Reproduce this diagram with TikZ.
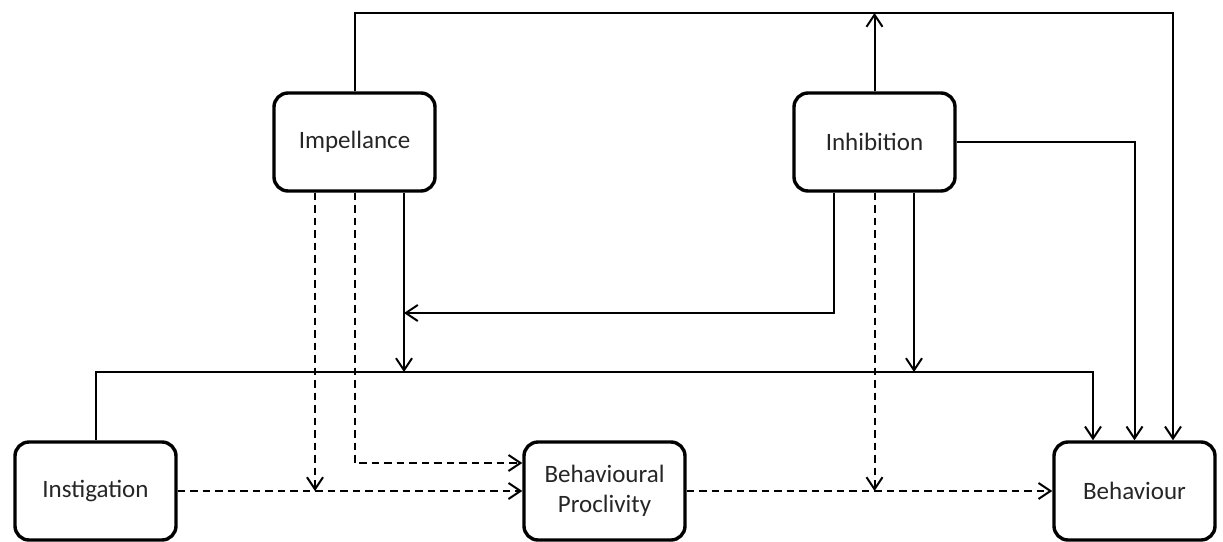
\documentclass[tikz,border=0pt]{standalone}
\usepackage{fontspec}
\setmainfont{Carlito}
\usetikzlibrary{arrows.meta,calc}
\begin{document}
\begin{tikzpicture}[x=1pt,y=-1pt,
  box/.style={draw, line width=3.4pt, rounded corners=14pt,
    minimum width=161pt, minimum height=98pt, inner sep=0pt,
    align=center, font=\fontsize{25}{30}\selectfont, text=black!85},
  wire/.style={line width=2pt, line join=miter},
  link/.style={wire, -{Straight Barb[length=12pt,width=16pt]}},
  dlink/.style={link, dash pattern=on 7.5pt off 5pt}]

  % canvas
  \fill[white] (0,0) rectangle (1223,541);
  \useasboundingbox (0,0) rectangle (1223,541);

  % constructs
  \node[box] (imp) at (354.5,142) {Impellance};
  \node[box] (inh) at (874.5,142) {Inhibition};
  \node[box] (ins) at (95.5,491)  {Instigation};
  \node[box] (bp)  at (604.5,491) {Behavioural\\Proclivity};
  \node[box] (beh) at (1134.5,491) {Behaviour};

  % routing rows and columns
  \coordinate (rowTop) at (0,13);
  \coordinate (rowInh) at (0,313);
  \coordinate (rowMid) at (0,372);
  \coordinate (rowBP)  at (0,463);
  \coordinate (colA) at (315,0);
  \coordinate (colC) at (404,0);
  \coordinate (colD) at (834,0);
  \coordinate (colE) at (914,0);
  \coordinate (colF) at (1093,0);
  \coordinate (colG) at (1173,0);

  % solid paths
  \draw[link] (imp.north) -- (imp.north |- rowTop) -| (beh.north -| colG);
  \draw[link] (inh.north) -- (inh.north |- rowTop);
  \draw[link] (inh.east) -| (beh.north);
  \draw[link] (ins.north) -- (ins.north |- rowMid) -| (beh.north -| colF);
  \draw[link] (imp.south -| colC) -- (rowMid -| colC);
  \draw[link] (inh.south -| colD) |- (rowInh -| colC);
  \draw[link] (inh.south -| colE) -- (rowMid -| colE);

  % dashed paths
  \draw[dlink] (imp.south -| colA) -- (ins.east -| colA);
  \draw[dlink] (imp.south) |- (bp.west |- rowBP);
  \draw[dlink] (inh.south) -- (inh.south |- bp.east);
  \draw[dlink] (ins.east) -- (bp.west);
  \draw[dlink] (bp.east) -- (beh.west);
\end{tikzpicture}
\end{document}
